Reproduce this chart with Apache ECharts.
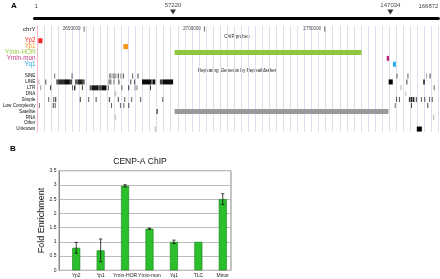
<!DOCTYPE html>
<html><head><meta charset="utf-8">
<script src="https://cdn.jsdelivr.net/npm/echarts@6/dist/echarts.min.js"></script>
<style>html,body{margin:0;padding:0;background:#fff}#c{width:440px;height:279px}</style>
</head><body><div id="c"></div>
<script>
// ---------- Panel A data ----------
const rulerMax = 166872;
const rulerMarks = [57220, 147034];
const rulerEnds = [1, 166872];
const chrYStart = 2630384;              // chrY coordinate at ruler position 1
const chrYTicks = [2650000, 2700000, 2750000];
const trackRows = ['chrY', 'ChIP probes', 'Yp2', 'Yp1', 'Ymin-HOR', 'Ymin-mon', 'Yq1',
  'Repeating Elements by RepeatMasker', 'SINE', 'LINE', 'LTR', 'DNA', 'Simple',
  'Low Complexity', 'Satellite', 'RNA', 'Other', 'Unknown'];
const probeNames = ['Yp2', 'Yp1', 'Ymin-HOR', 'Ymin-mon', 'Yq1'];
const probeStart = [600, 35900, 57220, 145400, 148000];
const probeEnd   = [2300, 37900, 134900, 146400, 149200];
// repeat elements: [start, end, score]
const sine = [[7200,7600,500],[14400,14800,600],[30100,30600,650],[31000,31400,350],[31800,32200,700],
  [32600,33000,450],[33600,34100,600],[34600,35100,300],[35700,36100,700],[39600,40000,600],
  [41800,42200,700],[149400,149900,500],[154000,154400,600],[161700,162200,250],[163200,163600,700]];
const line = [[600,1000,250],[3500,3900,700],[8000,8800,550],[8800,11300,800],[11300,13700,950],
  [13700,14600,700],[15800,17000,600],[17000,19100,850],[19100,19900,600],[29700,31000,400],
  [31800,32200,500],[33800,34300,600],[38800,39200,700],[40400,40800,700],[43700,47400,950],
  [47400,48200,600],[48200,49200,950],[51100,52300,700],[52300,56600,950],[146200,147900,1000],
  [153500,154000,600],[160500,161300,700]];
const ltr = [[1400,1800,350],[5500,5900,800],[14600,15000,600],[15400,16000,800],[18700,19100,700],
  [21900,22800,600],[22800,25600,900],[25600,26900,700],[26900,28900,950],[29500,29900,600],
  [35100,35500,600],[37900,38400,700],[40400,42000,200],[47000,47400,700],[151100,151500,250],
  [164900,165300,600]];
const dna = [[32200,33000,150],[153100,153500,200]];
const simple = [[4700,5100,600],[6800,7200,650],[7600,8000,800],[17800,18300,600],[21300,21700,600],
  [24400,24800,700],[29900,30400,650],[33600,34100,600],[36300,36700,600],[39200,39600,600],
  [42900,43300,600],[52100,52500,600],[149300,149700,700],[150500,150900,600],[154600,155300,750],
  [155500,156100,900],[156300,156900,800],[157500,157900,700],[159600,160000,600],[161000,161400,650],
  [163000,163400,600],[164100,164500,650]];
const lowComplexity = [[800,1200,500],[6600,7000,700],[7400,7800,600],[30800,31200,600],[34500,34900,550],
  [35900,36300,600],[37900,38400,600],[148700,149100,550],[155500,155900,700],[162200,162700,600]];
const satellite = [[49600,50300,550],[57220,146100,350]];
const rna = [[32400,32800,200],[164700,165100,250]];
const other = [];
const unknown = [[49000,49400,250],[157900,160000,1000]];

// ---------- Panel B data ----------
const categories = ['Yp2', 'Yp1', 'Ymin-HOR', 'Ymin-mon', 'Yq1', 'TLC', 'Minor'];
const enrichment = [0.79, 0.70, 2.97, 1.46, 1.00, 1.00, 2.50];
const errors     = [0.19, 0.40, 0.04, 0.02, 0.06, 0, 0.19];
const yTicks = [0, 0.5, 1, 1.5, 2, 2.5, 3, 3.5];

// ---------- styling ----------
const FONT = 'Liberation Sans';
const probeColors = ['#ee2a24', '#f7941d', '#8dc63f', '#b5267a', '#1fb0ec'];
const labelKeys = {'chrY': 'c', 'Yp2': 'p0', 'Yp1': 'p1', 'Ymin-HOR': 'p2', 'Ymin-mon': 'p3', 'Yq1': 'p4'};
const repeatSets = {SINE: sine, LINE: line, LTR: ltr, DNA: dna, Simple: simple,
  'Low Complexity': lowComplexity, Satellite: satellite, RNA: rna, Other: other, Unknown: unknown};
function grayOf(score) {
  const g = Math.round(235 - score * 0.235);
  return `rgb(${g},${g},${g})`;
}

const trackData = [];
probeNames.forEach((n, i) => trackData.push({value: [probeStart[i], probeEnd[i], n], color: probeColors[i]}));
Object.keys(repeatSets).forEach(k => repeatSets[k].forEach(d => trackData.push({value: [d[0], d[1], k], color: grayOf(d[2])})));

function renderBlock(params, api) {
  const row = api.value(2);
  const p0 = api.coord([api.value(0), row]);
  const p1 = api.coord([api.value(1), row]);
  const h = api.size([0, 1])[1] * 0.85;
  const w = Math.max(p1[0] - p0[0], 1);
  return {type: 'rect', shape: {x: p0[0], y: p0[1] - h / 2, width: w, height: h},
    style: {fill: trackData[params.dataIndex].color}};
}

function renderErr(params, api) {
  const i = api.value(0), v = api.value(1), e = api.value(2);
  if (!e) return null;
  const top = api.coord([i, v + e]);
  const bot = api.coord([i, v - e]);
  const cap = 1.6;
  const st = {stroke: '#111', lineWidth: 0.8};
  return {type: 'group', children: [
    {type: 'line', shape: {x1: top[0], y1: top[1], x2: bot[0], y2: bot[1]}, style: st},
    {type: 'line', shape: {x1: top[0] - cap, y1: top[1], x2: top[0] + cap, y2: top[1]}, style: st},
    {type: 'line', shape: {x1: bot[0] - cap, y1: bot[1], x2: bot[0] + cap, y2: bot[1]}, style: st}
  ]};
}

const splitColors = ['#ffb3c6'];
for (let i = 0; i < 80; i++) splitColors.push('#dedeee');

function txt(x, y, text, size, opts) {
  return Object.assign({type: 'text', x: x, y: y,
    style: Object.assign({text: text, fontSize: size, fontFamily: FONT, fill: '#111'}, opts || {})});
}

const chart = echarts.init(document.getElementById('c'), null, {renderer: 'canvas'});
chart.setOption({
  animation: false,
  textStyle: {fontFamily: FONT},
  graphic: [
    txt(11, 1.5, 'A', 8, {fontWeight: 'bold', fill: '#000'}),
    txt(10, 145, 'B', 8, {fontWeight: 'bold', fill: '#000'}),
    txt(237, 37, 'ChIP probes', 4.6, {fill: '#222', align: 'center', verticalAlign: 'middle'}),
    txt(237, 71, 'Repeating Elements by RepeatMasker', 4.6, {fill: '#222', align: 'center', verticalAlign: 'middle'}),
    txt(140, 162, 'CENP-A ChIP', 8.5, {align: 'center', verticalAlign: 'middle'})
  ],
  grid: [
    {left: 34.5, right: 1.6, top: 4, height: 14.5},
    {left: 34.5, right: 1.6, top: 26, height: 106},
    {left: 59, right: 209, top: 170.7, bottom: 8.7, show: true, borderColor: '#8a8a8a', borderWidth: 1},
    {left: 64, right: 205, top: 170.7, bottom: 8.7}
  ],
  xAxis: [
    {gridIndex: 0, type: 'value', min: 1, max: rulerMax, axisLine: {show: true, onZero: false, lineStyle: {color: '#000', width: 3}},
      axisTick: {show: false}, axisLabel: {show: false}, splitLine: {show: false}},
    {gridIndex: 1, type: 'value', min: 1, max: rulerMax, interval: (rulerMax - 1) / 57,
      axisLine: {show: false}, axisTick: {show: false}, axisLabel: {show: false},
      splitLine: {show: true, lineStyle: {color: splitColors, width: 1}}},
    {gridIndex: 2, type: 'value', min: 0, max: 1, show: false},
    {gridIndex: 3, type: 'category', data: categories,
      axisLine: {show: false}, axisTick: {show: false},
      axisLabel: {fontSize: 5, color: '#222', margin: 2.5, interval: 0}}
  ],
  yAxis: [
    {gridIndex: 0, type: 'value', min: 0, max: 1, show: false},
    {gridIndex: 1, type: 'category', inverse: true, data: trackRows,
      axisLine: {show: true, lineStyle: {color: '#ffb3c6', width: 1}}, axisTick: {show: false},
      splitLine: {show: false},
      axisLabel: {margin: 1.5, interval: 0,
        formatter: v => {
          if (v === 'ChIP probes' || v.indexOf('Repeating') === 0) return '';
          const k = labelKeys[v] || 'r';
          return '{' + k + '|' + v + '}';
        },
        rich: {
          c: {fontSize: 6, color: '#111', fontFamily: FONT},
          p0: {fontSize: 6.3, color: probeColors[0], fontFamily: FONT},
          p1: {fontSize: 6.3, color: probeColors[1], fontFamily: FONT},
          p2: {fontSize: 6.3, color: '#99cc44', fontFamily: FONT},
          p3: {fontSize: 6.3, color: '#c23a86', fontFamily: FONT},
          p4: {fontSize: 6.3, color: '#22a8e0', fontFamily: FONT},
          r: {fontSize: 4.6, color: '#111', fontFamily: FONT}
        }}},
    {gridIndex: 2, type: 'value', min: 0, max: 3.5, interval: 0.5,
      name: 'Fold Enrichment', nameLocation: 'middle', nameGap: 12, nameRotate: 90,
      nameTextStyle: {fontSize: 9, color: '#111'},
      axisLine: {show: true, lineStyle: {color: '#8a8a8a'}}, axisTick: {show: false},
      axisLabel: {fontSize: 5, color: '#222', margin: 2.5, formatter: v => yTicks.indexOf(v) >= 0 ? String(v) : ''},
      splitLine: {show: true, lineStyle: {color: '#bdbdbd', width: 1}}},
    {gridIndex: 3, type: 'value', min: 0, max: 3.5, show: false}
  ],
  series: [
    {type: 'scatter', xAxisIndex: 0, yAxisIndex: 0, data: rulerMarks.map(v => [v, 0.45]),
      symbol: 'triangle', symbolRotate: 180, symbolSize: [6, 5], itemStyle: {color: '#000'},
      label: {show: true, position: 'top', distance: 1.2, formatter: p => String(p.value[0]), fontSize: 6, color: '#111'}},
    {type: 'scatter', xAxisIndex: 0, yAxisIndex: 0, symbolSize: 0,
      data: rulerEnds.map((v, i) => ({value: [v, 0.84], label: {align: i === 0 ? 'left' : 'right'}})),
      label: {show: true, position: 'inside', formatter: p => String(p.value[0]), fontSize: 6, color: '#111'}},
    {type: 'scatter', xAxisIndex: 1, yAxisIndex: 1, data: chrYTicks.map(v => [v - chrYStart + 1, 'chrY']),
      symbol: 'rect', symbolSize: [1, 5], itemStyle: {color: '#444'},
      label: {show: true, position: 'left', distance: 3, fontSize: 4.6, color: '#222',
        formatter: p => String(chrYTicks[p.dataIndex])}},
    {type: 'custom', xAxisIndex: 1, yAxisIndex: 1, renderItem: renderBlock,
      encode: {x: [0, 1], y: 2}, data: trackData.map(d => d.value)},
    {type: 'bar', xAxisIndex: 3, yAxisIndex: 3, data: enrichment, barWidth: 8,
      itemStyle: {color: '#2cbf2c', borderColor: '#17801a', borderWidth: 0.6}},
    {type: 'custom', xAxisIndex: 3, yAxisIndex: 3, renderItem: renderErr, z: 5,
      encode: {x: 0, y: 1}, data: categories.map((c, i) => [i, enrichment[i], errors[i]])}
  ]
});
</script>
</body></html>
